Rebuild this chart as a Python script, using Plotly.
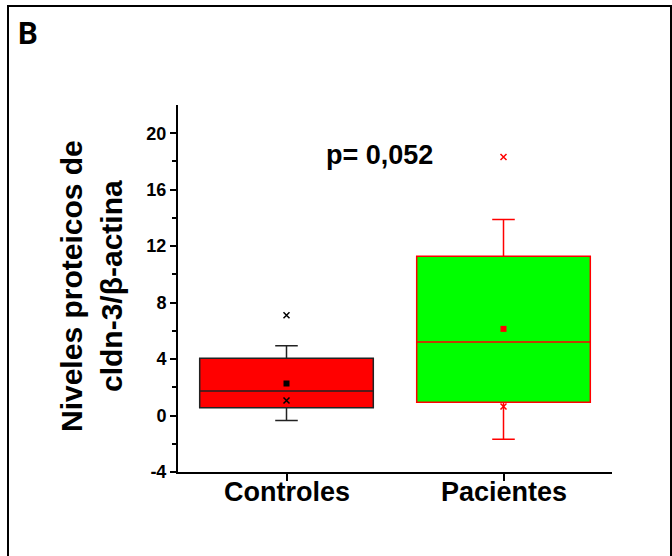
import plotly.graph_objects as go

categories = ["Controles", "Pacientes"]
q1 = [0.55, 0.95]
median = [1.73, 5.21]
q3 = [4.05, 11.29]
lower_whisker = [-0.36, -1.68]
upper_whisker = [4.95, 13.88]
means = [2.27, 6.14]
extreme_low = [1.07, 0.64]
extreme_high = [7.1, 18.32]
fills = ["#FF0000", "#00FF00"]
edges = ["#222222", "#FF0000"]
y_ticks = [-4, 0, 4, 8, 12, 16, 20]
y_tick_labels = ["-4", "0", "4", "8", "12", "16", "20"]
p_text = "p= 0,052"

FONT = "Liberation Sans"
L, R, T, B = 178, 60, 105, 84
W, H = 672, 556
pw, ph = W - L - R, H - T - B

def px_x(px):
    return (px - L) / pw

def px_y(py):
    return (H - B - py) / ph

fig = go.Figure()
for i, c in enumerate(categories):
    col = edges[i] if i else "#000000"
    fig.add_trace(go.Box(
        x=[c], q1=[q1[i]], median=[median[i]], q3=[q3[i]],
        lowerfence=[lower_whisker[i]], upperfence=[upper_whisker[i]],
        fillcolor=fills[i], line=dict(color=edges[i], width=1.5),
        width=0.8, whiskerwidth=0.13, boxpoints=False, showlegend=False,
        hoverinfo="skip",
    ))
    fig.add_trace(go.Scatter(
        x=[c], y=[means[i]], mode="markers",
        marker=dict(symbol="square", size=6, color=col),
        showlegend=False, hoverinfo="skip",
    ))
    fig.add_trace(go.Scatter(
        x=[c, c], y=[extreme_low[i], extreme_high[i]], mode="markers",
        marker=dict(symbol="x-thin", size=6, color=col, line=dict(width=1.5, color=col)),
        showlegend=False, hoverinfo="skip",
    ))

fig.update_layout(
    width=W, height=H,
    margin=dict(l=L, r=R, t=T, b=B, autoexpand=False),
    paper_bgcolor="white", plot_bgcolor="white",
    boxmode="overlay",
    font=dict(family=FONT, color="black"),
    xaxis=dict(
        type="category", categoryorder="array", categoryarray=categories,
        range=[-0.5, 1.5], showline=True, linecolor="black", linewidth=2,
        ticks="outside", ticklen=7, tickwidth=1.5, tickcolor="black",
        showticklabels=False,
        showgrid=False, zeroline=False, fixedrange=True,
    ),
    yaxis=dict(
        range=[-4, 22], showline=True, linecolor="black", linewidth=2,
        tickvals=y_ticks, ticktext=y_tick_labels,
        ticks="outside", ticklen=6, tickwidth=1.5, tickcolor="black",
        tickfont=dict(family=FONT, size=18, weight="bold", color="black"),
        minor=dict(tickvals=[-2, 2, 6, 10, 14, 18], ticks="outside", ticklen=4,
                   tickwidth=1.5, tickcolor="black"),
        showgrid=False, zeroline=False, fixedrange=True,
    ),
)

for c in categories:
    fig.add_annotation(x=c, y=px_y(475), xref="x", yref="paper", text=c,
                       showarrow=False, xanchor="center", yanchor="top",
                       font=dict(family=FONT, size=27, weight="bold", color="black"))

fig.add_annotation(x=0.428, y=18.45, xref="x", yref="y", text=p_text,
                   showarrow=False, xanchor="center", yanchor="middle",
                   font=dict(family=FONT, size=27, weight="bold", color="black"))

fig.add_annotation(x=px_x(71), y=px_y(286), xref="paper", yref="paper",
                   text="Niveles proteicos de", textangle=-90, showarrow=False,
                   xanchor="center", yanchor="middle",
                   font=dict(family=FONT, size=30, weight="bold", color="black"))
fig.add_annotation(x=px_x(111), y=px_y(286), xref="paper", yref="paper",
                   text="cldn-3/β-actina", textangle=-90, showarrow=False,
                   xanchor="center", yanchor="middle",
                   font=dict(family=FONT, size=30, weight="bold", color="black"))

fig.add_annotation(x=px_x(16), y=px_y(33), xref="paper", yref="paper",
                   text="B", showarrow=False, xanchor="left", yanchor="middle",
                   font=dict(family="Roboto", size=31, weight="bold", color="black"))

fig.add_shape(type="rect", xref="paper", yref="paper",
              x0=px_x(8), x1=px_x(671), y0=px_y(566), y1=px_y(6),
              line=dict(color="black", width=2), fillcolor="rgba(0,0,0,0)", layer="above")

fig.write_html("out.html")
